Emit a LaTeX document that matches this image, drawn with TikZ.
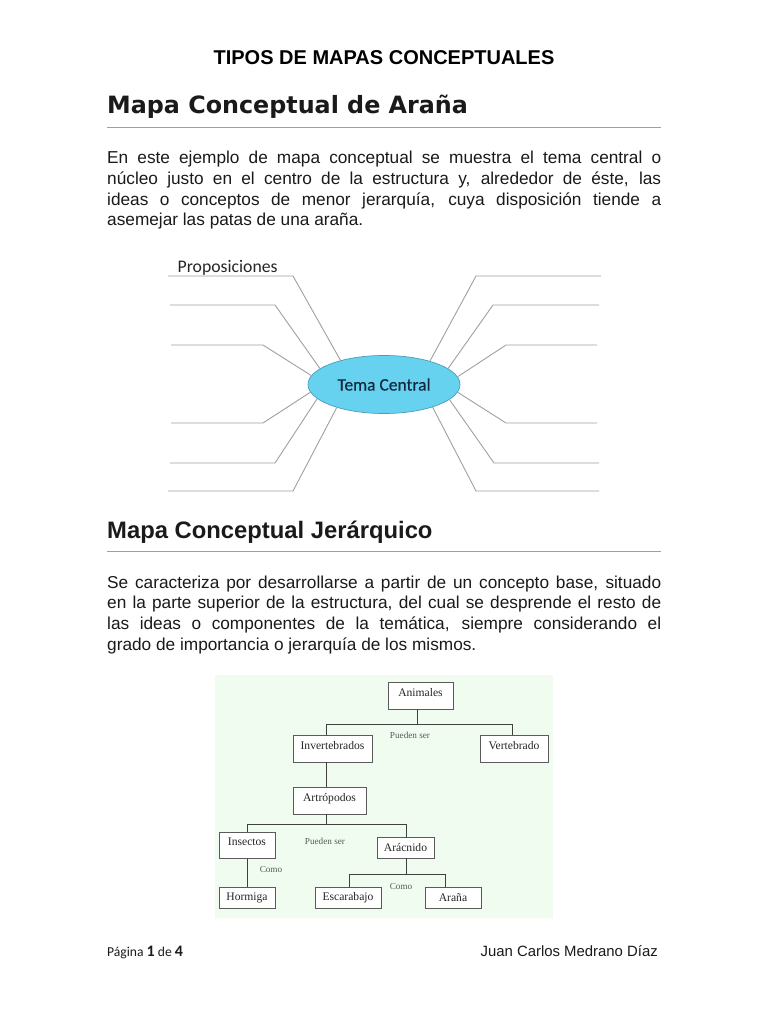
\documentclass[tikz,border=0pt]{standalone}
\usepackage{fontspec}
\setmainfont{Liberation Sans}
\newfontfamily\serifa{Liberation Serif}
\newfontfamily\carl{Carlito}
\newfontfamily\carlb[FakeBold=0.4]{Carlito}
\newfontfamily\deja{DejaVu Sans}
\usetikzlibrary{shapes.geometric}
\definecolor{ink}{HTML}{1A1A1A}
\definecolor{legc}{HTML}{A0A0A0}
\definecolor{ruleg}{HTML}{A0A0A0}
\definecolor{mint}{HTML}{F0FCF0}
\definecolor{tema}{HTML}{66D2F0}
\definecolor{temab}{HTML}{4A9DB8}
\definecolor{navy}{HTML}{14283C}
\definecolor{boxe}{HTML}{5A5A5A}
\tikzset{
  x=1pt,y=-1pt,
  parabody/.style={anchor=north west,inner sep=0pt,text width=554pt,align=justify,text=ink,font=\fontsize{17.25}{20.7}\selectfont},
  heading/.style={anchor=base west,inner sep=0pt,text=ink},
  hrule/.style={draw=ruleg,line width=0.7pt},
  leg/.style={draw=legc,line width=0.9pt},
  hbox/.style={draw=boxe,line width=1pt,fill=white,inner sep=0pt,font=\serifa\fontsize{11.6}{13}\selectfont,text=black!85},
  raisedtext/.style={text height=8pt,text depth=7pt},
  link/.style={draw=black!75,line width=1pt},
  lbl/.style={inner sep=0pt,font=\serifa\fontsize{9.2}{11}\selectfont,text=black!65}
}
\newcommand{\hb}[6]{\node[hbox,minimum width=#4 pt,minimum height=#5 pt] (#1) at (#2,#3) {#6};}
\newcommand{\hbr}[6]{\node[hbox,raisedtext,minimum width=#4 pt,minimum height=#5 pt] (#1) at (#2,#3) {#6};}
\newcommand{\jl}[1]{{\tolerance=10000\hbadness=10000\parfillskip=0pt\noindent #1\par}}
\begin{document}
\begin{tikzpicture}
\useasboundingbox (0,0) rectangle (768,1024);
\fill[white] (0,0) rectangle (768,1024);
\node[anchor=base,inner sep=0pt,text=black,font=\bfseries\fontsize{20}{22}\selectfont] (titulo) at (384,65) {TIPOS DE MAPAS CONCEPTUALES};
\node[heading,font=\deja\bfseries\fontsize{23.8}{26}\selectfont] (h1) at (107,114) {Mapa Conceptual de Araña};
\draw[hrule] (107,127) -- (661,127);
\node[parabody] (p1) at (107,151) {\jl{En este ejemplo de mapa conceptual se muestra el tema central o}\jl{núcleo justo en el centro de la estructura y, alrededor de éste, las}\jl{ideas o conceptos de menor jerarquía, cuya disposición tiende a}\noindent asemejar las patas de una araña.\par};

% spider
\node[ellipse,draw=temab,line width=0.7pt,fill=tema,inner sep=0pt,minimum width=152pt,minimum height=58pt,text=navy,font=\carlb\fontsize{17.5}{20}\selectfont] (tc) at (384,384.5) {Tema Central};
\node[anchor=base west,inner sep=0pt,text=black!85,font=\carl\fontsize{17.7}{20}\selectfont] (prop) at (177.5,272) {Proposiciones};
\foreach \n/\xa/\xb/\yy/\ang in {
 la/168/293/276/151.5, lb/170/275/305/166, lc/171/263/345/173.4,
 ld/171/263/423/186.5, le/170/275/463/192.4, lf/168/293/491/206.6,
 ra/601/476/276/27.5, rb/599/493/305/14, rc/597/506/345/6.5,
 rd/597/506/423/-6.5, re/599/494/463/-13.8, rf/599/476/491/-25.6}{
  \coordinate (\n0) at (\xa,\yy);
  \coordinate (\n1) at (\xb,\yy);
  \draw[leg] (\n0) -- (\n1) -- (tc.\ang);
}

\node[heading,font=\bfseries\fontsize{23.8}{26}\selectfont] (h2) at (107,538) {Mapa Conceptual Jerárquico};
\draw[hrule] (107,551) -- (661,551);
\node[parabody] (p2) at (107,575.5) {\jl{Se caracteriza por desarrollarse a partir de un concepto base, situado}\jl{en la parte superior de la estructura, del cual se desprende el resto de}\jl{las ideas o componentes de la temática, siempre considerando el}\noindent grado de importancia o jerarquía de los mismos.\par};

% hierarchy
\fill[mint] (215,675) rectangle (553,918);
\hbr{ani}{420.5}{695.5}{65}{27}{Animales}
\hbr{inv}{332.5}{748.5}{79}{27}{Invertebrados}
\hbr{ver}{514}{748.5}{68}{27}{Vertebrado}
\hbr{art}{329.5}{800.5}{73}{27}{Artrópodos}
\hbr{ins}{247}{845}{56}{26}{Insectos}
\hb{ara}{405.5}{847.5}{57}{21}{Arácnido}
\hb{hor}{247}{897.5}{56}{21}{Hormiga}
\hb{esc}{348}{897.5}{66}{21}{Escarabajo}
\hb{ana}{453}{897.5}{56}{21}{Araña}
\coordinate (j1) at (417.5,724);
\coordinate (j1a) at (417.5,709);
\coordinate (j1l) at (326,724);
\coordinate (j1r) at (512,724);
\coordinate (j1lb) at (326,735);
\coordinate (j1rb) at (512,735);
\draw[link] (j1a) -- (j1);
\draw[link] (j1lb) -- (j1l) -- (j1r) -- (j1rb);
\coordinate (j2a) at (326,762);
\coordinate (j2b) at (326,787);
\draw[link] (j2a) -- (j2b);
\coordinate (j3a) at (326,814);
\coordinate (j3) at (326,824);
\coordinate (j3l) at (247,824);
\coordinate (j3r) at (406,824);
\draw[link] (j3a) -- (j3);
\draw[link] (ins.north) -- (j3l) -- (j3r) -- (j3r |- ara.north);
\draw[link] (ins.south) -- (hor.north);
\coordinate (j4a) at (406,858);
\coordinate (j4) at (406,874);
\coordinate (j4l) at (349,874);
\coordinate (j4r) at (445,874);
\draw[link] (j4a) -- (j4);
\draw[link] (j4l |- esc.north) -- (j4l) -- (j4r) -- (j4r |- ana.north);
\node[lbl] (l1) at (410,735) {Pueden ser};
\node[lbl] (l2) at (325,841) {Pueden ser};
\node[lbl] (l3) at (271,869.5) {Como};
\node[lbl] (l4) at (401,886) {Como};

% footer
\node[anchor=base west,inner sep=0pt,text=ink,font=\carl\fontsize{13.6}{16}\selectfont] (pag) at (107,956.5) {Página {\bfseries\fontsize{16}{16}\selectfont 1} de {\bfseries\fontsize{16}{16}\selectfont 4}};
\node[anchor=base east,inner sep=0pt,text=ink,font=\fontsize{14.9}{16}\selectfont] (autor) at (658,956.5) {Juan Carlos Medrano Díaz};
\end{tikzpicture}
\end{document}
